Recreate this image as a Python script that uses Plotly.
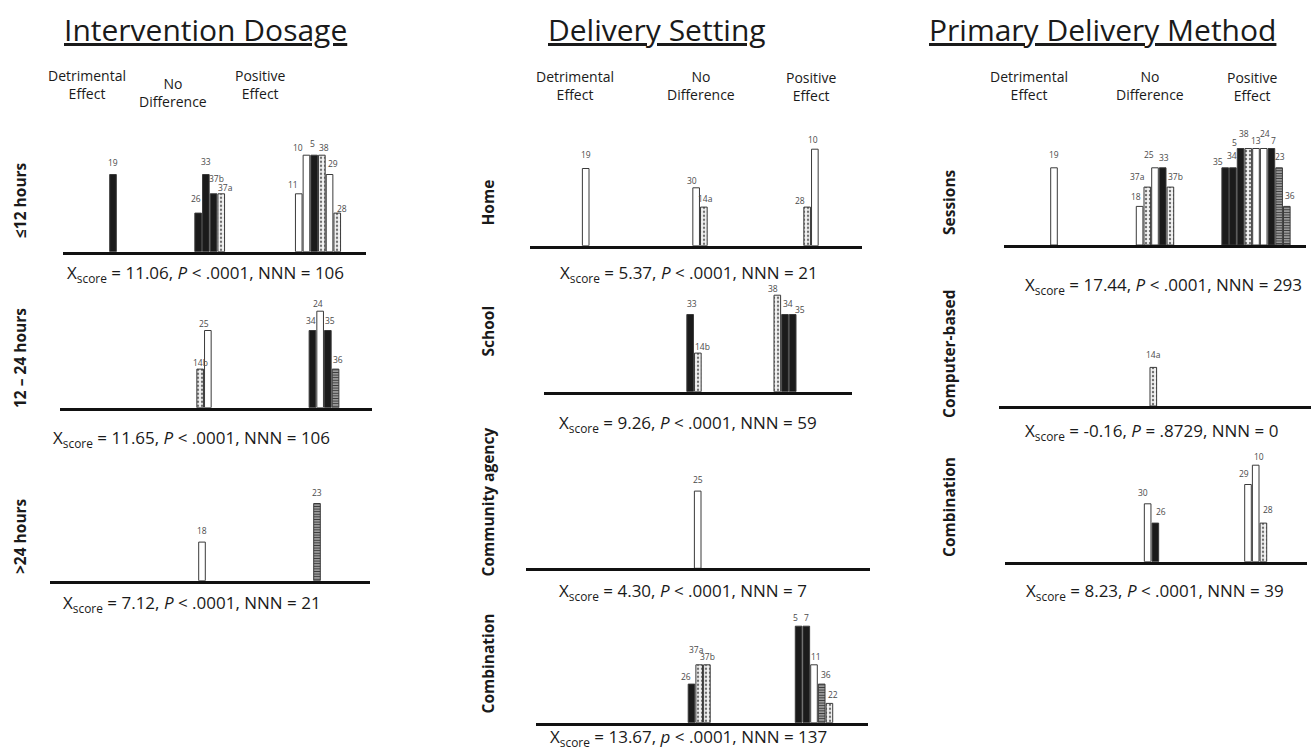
import plotly.graph_objects as go

# ---------------------------------------------------------------- data
# effect code: 0 = detrimental effect, 1 = no difference, 2 = positive effect
# level: bar height (evidence level) ; design: study design category

DOSE_LE12_STUDY = ["19", "26", "33", "37b", "37a", "11", "10", "5", "38", "29", "28"]
DOSE_LE12_EFFECT = [0, 1, 1, 1, 1, 2, 2, 2, 2, 2, 2]
DOSE_LE12_LEVEL = [4, 2, 4, 3, 3, 3, 5, 5, 5, 4, 2]
DOSE_LE12_DESIGN = ["solid", "solid", "solid", "solid", "dot", "open", "open", "solid", "dot", "open", "dot"]

DOSE_12_24_STUDY = ["14b", "25", "34", "24", "35", "36"]
DOSE_12_24_EFFECT = [1, 1, 2, 2, 2, 2]
DOSE_12_24_LEVEL = [2, 4, 4, 5, 4, 2]
DOSE_12_24_DESIGN = ["dot", "open", "solid", "open", "solid", "hatch"]

DOSE_GT24_STUDY = ["18", "23"]
DOSE_GT24_EFFECT = [1, 2]
DOSE_GT24_LEVEL = [2, 4]
DOSE_GT24_DESIGN = ["open", "hatch"]

HOME_STUDY = ["19", "30", "14a", "28", "10"]
HOME_EFFECT = [0, 1, 1, 2, 2]
HOME_LEVEL = [4, 3, 2, 2, 5]
HOME_DESIGN = ["open", "open", "dot", "dot", "open"]

SCHOOL_STUDY = ["33", "14b", "38", "34", "35"]
SCHOOL_EFFECT = [1, 1, 2, 2, 2]
SCHOOL_LEVEL = [4, 2, 5, 4, 4]
SCHOOL_DESIGN = ["solid", "dot", "dot", "solid", "solid"]

AGENCY_STUDY = ["25"]
AGENCY_EFFECT = [1]
AGENCY_LEVEL = [4]
AGENCY_DESIGN = ["open"]

SETTING_COMB_STUDY = ["26", "37a", "37b", "5", "7", "11", "36", "22"]
SETTING_COMB_EFFECT = [1, 1, 1, 2, 2, 2, 2, 2]
SETTING_COMB_LEVEL = [2, 3, 3, 5, 5, 3, 2, 1]
SETTING_COMB_DESIGN = ["solid", "dot", "dot", "solid", "solid", "open", "hatch", "dot"]

SESSIONS_STUDY = ["19", "18", "37a", "25", "33", "37b", "35", "34", "5", "38", "13", "24", "7", "23", "36"]
SESSIONS_EFFECT = [0, 1, 1, 1, 1, 1, 2, 2, 2, 2, 2, 2, 2, 2, 2]
SESSIONS_LEVEL = [4, 2, 3, 4, 4, 3, 4, 4, 5, 5, 5, 5, 5, 4, 2]
SESSIONS_DESIGN = ["open", "open", "dot", "open", "solid", "dot", "solid", "solid", "solid", "dot",
                   "open", "open", "solid", "hatch", "hatch"]

COMPUTER_STUDY = ["14a"]
COMPUTER_EFFECT = [1]
COMPUTER_LEVEL = [2]
COMPUTER_DESIGN = ["dot"]

METHOD_COMB_STUDY = ["30", "26", "29", "10", "28"]
METHOD_COMB_EFFECT = [1, 1, 2, 2, 2]
METHOD_COMB_LEVEL = [3, 2, 4, 5, 2]
METHOD_COMB_DESIGN = ["open", "solid", "open", "open", "dot"]

# test statistics shown under each panel
STAT_XSCORE = ["11.06", "11.65", "7.12", "5.37", "9.26", "4.30", "13.67", "17.44", "-0.16", "8.23"]
STAT_P = ["&lt; .0001", "&lt; .0001", "&lt; .0001", "&lt; .0001", "&lt; .0001", "&lt; .0001",
          "&lt; .0001", "&lt; .0001", "= .8729", "&lt; .0001"]
STAT_P_SYMBOL = ["P", "P", "P", "P", "P", "P", "p", "P", "P", "P"]
STAT_NNN = ["106", "106", "21", "21", "59", "7", "137", "293", "0", "39"]

ROW_LABELS = ["≤12 hours", "12 – 24 hours", ">24 hours", "Home", "School", "Community agency",
              "Combination", "Sessions", "Computer-based", "Combination"]
SECTION_TITLES = ["Intervention Dosage", "Delivery Setting", "Primary Delivery Method"]
EFFECT_HEADERS = ["Detrimental<br>Effect", "No<br>Difference", "Positive<br>Effect"]

# ---------------------------------------------------------------- styling / layout
W, H = 1311, 749
FONT = "Open Sans"
PITCH = 7.7      # px between neighbouring bar centres
BAR_W = 0.86     # bar width, in bar slots
UNIT = 19.3      # px per evidence level
YMAX = 5.8

DESIGN_STYLE = {
    "solid": dict(color="#1b1b1b", shape="", fg="#1b1b1b", bg="#1b1b1b", size=4, solidity=0.3),
    "open": dict(color="#ffffff", shape="", fg="#ffffff", bg="#ffffff", size=4, solidity=0.3),
    "dot": dict(color="#e0e0e0", shape=".", fg="#6e6e6e", bg="#f2f2f2", size=4, solidity=0.28),
    "hatch": dict(color="#b8b8b8", shape="-", fg="#3a3a3a", bg="#b8b8b8", size=2.6, solidity=0.5),
}

# panel geometry: left/right px, baseline px, cluster centres px (detrimental, no diff, positive),
# stat line centre px, row label centre px
PANELS = [
    dict(data=(DOSE_LE12_STUDY, DOSE_LE12_EFFECT, DOSE_LE12_LEVEL, DOSE_LE12_DESIGN),
         x0=63, x1=366, base=251.7, clusters=(113, 209.7, 318), stat=(205, 274), row=(20, 200)),
    dict(data=(DOSE_12_24_STUDY, DOSE_12_24_EFFECT, DOSE_12_24_LEVEL, DOSE_12_24_DESIGN),
         x0=60, x1=372, base=407.7, clusters=(113, 204, 324), stat=(191, 438), row=(20, 358)),
    dict(data=(DOSE_GT24_STUDY, DOSE_GT24_EFFECT, DOSE_GT24_LEVEL, DOSE_GT24_DESIGN),
         x0=50, x1=370, base=580.7, clusters=(113, 202, 317), stat=(192, 603), row=(20, 536)),
    dict(data=(HOME_STUDY, HOME_EFFECT, HOME_LEVEL, HOME_DESIGN),
         x0=530, x1=862, base=245.7, clusters=(585.7, 700, 811), stat=(689, 274), row=(487.5, 203)),
    dict(data=(SCHOOL_STUDY, SCHOOL_EFFECT, SCHOOL_LEVEL, SCHOOL_DESIGN),
         x0=544, x1=852, base=391.7, clusters=(585.7, 694, 785), stat=(688, 423), row=(487.5, 331)),
    dict(data=(AGENCY_STUDY, AGENCY_EFFECT, AGENCY_LEVEL, AGENCY_DESIGN),
         x0=526, x1=870, base=568.3, clusters=(585.7, 697.7, 811), stat=(683, 591), row=(487.5, 502)),
    dict(data=(SETTING_COMB_STUDY, SETTING_COMB_EFFECT, SETTING_COMB_LEVEL, SETTING_COMB_DESIGN),
         x0=536, x1=868, base=722.7, clusters=(585.7, 699.2, 814), stat=(688, 737), row=(487.5, 664)),
    dict(data=(SESSIONS_STUDY, SESSIONS_EFFECT, SESSIONS_LEVEL, SESSIONS_DESIGN),
         x0=1004, x1=1306, base=245, clusters=(1054, 1155, 1256), stat=(1163, 285), row=(949, 202)),
    dict(data=(COMPUTER_STUDY, COMPUTER_EFFECT, COMPUTER_LEVEL, COMPUTER_DESIGN),
         x0=999, x1=1311, base=406, clusters=(1054, 1153.3, 1256), stat=(1151, 431), row=(949, 354)),
    dict(data=(METHOD_COMB_STUDY, METHOD_COMB_EFFECT, METHOD_COMB_LEVEL, METHOD_COMB_DESIGN),
         x0=1005, x1=1307, base=561.7, clusters=(1054, 1151.5, 1255.7), stat=(1155, 591), row=(949, 507)),
]

# study-label offsets (dx, dy px from the top centre of each bar), staggered to stay legible
LABEL_OFFSETS = [
    [(0, 12), (-2, 15), (0, 13), (3, 15), (4, 6), (-6, 9), (-8, 8), (-2, 12), (2, 8), (3, 11), (5, 5)],
    [(0, 7), (-4, 7), (-1, 10), (-2, 8), (2, 10), (2, 10)],
    [(0, 12), (0, 11)],
    [(0, 14), (-4, 7), (2, 9), (-7, 7), (-2, 10)],
    [(2, 11), (5, 7), (-4, 7), (3, 11), (7, 5)],
    [(0, 12)],
    [(-6, 8), (-3, 15), (1, 8), (-3, 9), (0, 9), (2, 8), (4, 10), (4, 9)],
    [(0, 13), (-4, 10), (-10, 11), (-6, 13), (1, 10), (5, 11), (-7, 6), (-1, 12), (-6, 6), (-4, 15),
     (0, 8), (1, 15), (2, 8), (1, 11), (3, 11)],
    [(0, 13)],
    [(-5, 11), (6, 12), (-4, 11), (3, 9), (5, 14)],
]

COLUMN_CENTRES = [205, 657, 1102]
HEADER_POS = [  # (x centre px, y centre px) for the three effect headings of each column
    [(87, 84), (173, 92), (260, 84)],
    [(575, 85), (701, 85), (811, 86)],
    [(1029, 85), (1150, 85), (1252, 86)],
]


def px_x(x):
    return x / W


def px_y(y):
    return 1 - y / H


fig = go.Figure()
annotations = []
layout_axes = {}

for i, panel in enumerate(PANELS):
    n = i + 1
    sfx = "" if n == 1 else str(n)
    study, effect, level, design = panel["data"]
    x0, x1, base = panel["x0"], panel["x1"], panel["base"]

    # place bars of each effect group side by side around that group's centre
    xs = []
    for k, eff in enumerate(effect):
        group = [j for j, e in enumerate(effect) if e == eff]
        pos = group.index(k)
        centre = (panel["clusters"][eff] - x0) / PITCH
        xs.append(centre + (pos - (len(group) - 1) / 2))

    # one trace per design so each pattern is defined once per trace
    for dname, st in DESIGN_STYLE.items():
        idx = [k for k, d in enumerate(design) if d == dname]
        if not idx:
            continue
        marker = dict(color=st["color"], line=dict(color="#3a3a3a", width=1))
        if st["shape"]:
            marker["pattern"] = dict(shape=st["shape"], fgcolor=st["fg"], bgcolor=st["bg"],
                                     size=st["size"], solidity=st["solidity"], fillmode="replace")
        fig.add_trace(go.Bar(
            x=[xs[k] for k in idx], y=[level[k] for k in idx], width=BAR_W,
            xaxis="x" + sfx, yaxis="y" + sfx, marker=marker,
            showlegend=False, hoverinfo="skip",
        ))

    layout_axes["xaxis" + sfx] = dict(
        domain=[px_x(x0), px_x(x1)], range=[0, (x1 - x0) / PITCH],
        anchor="y" + sfx, showgrid=False, zeroline=False, showticklabels=False, ticks="",
        showline=True, linecolor="#111111", linewidth=3, fixedrange=True,
    )
    layout_axes["yaxis" + sfx] = dict(
        domain=[px_y(base), px_y(base - YMAX * UNIT)], range=[0, YMAX],
        anchor="x" + sfx, visible=False, fixedrange=True,
    )

    # study labels above bars
    for k, (lab, (dx, dy)) in enumerate(zip(study, LABEL_OFFSETS[i])):
        annotations.append(dict(
            x=xs[k], y=level[k], xref="x" + sfx, yref="y" + sfx,
            text=lab, showarrow=False, xshift=dx, yshift=dy,
            xanchor="center", yanchor="middle",
            font=dict(family=FONT, size=8.5, color="#4a4a4a"),
        ))

    # statistic line
    sx, sy = panel["stat"]
    annotations.append(dict(
        x=px_x(sx), y=px_y(sy), xref="paper", yref="paper",
        text=(f"X<sub>score</sub> = {STAT_XSCORE[i]}, <i>{STAT_P_SYMBOL[i]}</i> "
              f"{STAT_P[i]}, NNN = {STAT_NNN[i]}"),
        showarrow=False, xanchor="center", yanchor="middle",
        font=dict(family=FONT, size=17, color="#1a1a1a"),
    ))

    # row label
    rx, ry = panel["row"]
    annotations.append(dict(
        x=px_x(rx), y=px_y(ry), xref="paper", yref="paper",
        text=f"<b>{ROW_LABELS[i]}</b>", textangle=-90, showarrow=False,
        xanchor="center", yanchor="middle",
        font=dict(family=FONT, size=15.5, color="#1a1a1a"),
    ))

# section titles and effect headings
for c, title in enumerate(SECTION_TITLES):
    annotations.append(dict(
        x=px_x(COLUMN_CENTRES[c]), y=px_y(29), xref="paper", yref="paper",
        text=title, showarrow=False, xanchor="center", yanchor="middle",
        font=dict(family=FONT, size=30, color="#1a1a1a", lineposition="under"),
    ))
    for h, head in enumerate(EFFECT_HEADERS):
        hx, hy = HEADER_POS[c][h]
        annotations.append(dict(
            x=px_x(hx), y=px_y(hy), xref="paper", yref="paper",
            text=head, showarrow=False, xanchor="center", yanchor="middle", align="center",
            font=dict(family=FONT, size=14, color="#1a1a1a"),
        ))

fig.update_layout(
    width=W, height=H, margin=dict(l=0, r=0, t=0, b=0),
    paper_bgcolor="white", plot_bgcolor="rgba(0,0,0,0)",
    barmode="overlay", annotations=annotations, **layout_axes,
)

fig.write_html("out.html")
